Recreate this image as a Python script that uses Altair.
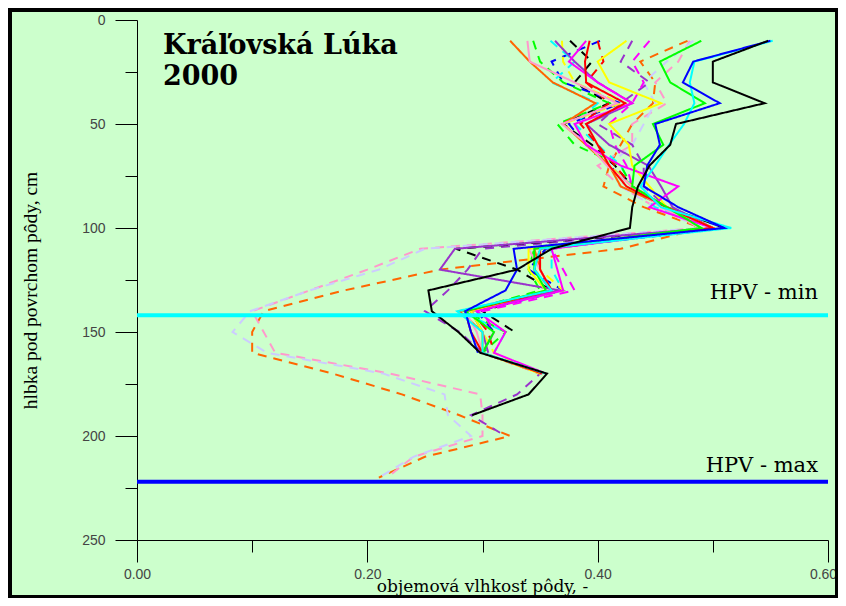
import altair as alt
import pandas as pd

# ---------------- data (soil moisture profiles, depth step 10 cm from 10 cm) ----------------
black_solid = [0.548, 0.50, 0.50, 0.545, 0.468, 0.463, 0.445, 0.435, 0.43, 0.428, 0.36, 0.33, 0.253, 0.256, 0.279, 0.298, 0.356, 0.34, 0.291]
blue_solid = [0.55, 0.483, 0.474, 0.506, 0.45, 0.454, 0.443, 0.44, 0.47, 0.51, 0.327, 0.33, 0.32, 0.285, 0.29, 0.296]
cyan_solid = [0.552, 0.484, 0.48, 0.484, 0.475, 0.462, 0.45, 0.437, 0.455, 0.516, 0.35, 0.345, 0.36, 0.278, 0.30, 0.30, 0.355]
green_solid = [0.49, 0.454, 0.463, 0.493, 0.448, 0.457, 0.432, 0.43, 0.46, 0.49, 0.345, 0.345, 0.355, 0.285, 0.31, 0.30]
red_solid = [0.393, 0.389, 0.39, 0.424, 0.39, 0.40, 0.41, 0.425, 0.46, 0.50, 0.35, 0.35, 0.36, 0.285, 0.29, 0.30, 0.352]
magenta_solid = [0.39, 0.375, 0.40, 0.43, 0.38, 0.39, 0.42, 0.47, 0.445, 0.50, 0.36, 0.365, 0.37, 0.295, 0.32, 0.31, 0.355]
yellow_solid = [0.425, 0.40, 0.41, 0.455, 0.41, 0.427, 0.43, 0.445, 0.46, 0.50, 0.34, 0.34, 0.355, 0.29, 0.30, 0.30, 0.35]
orange_solid = [0.324, 0.341, 0.361, 0.398, 0.37, 0.39, 0.41, 0.42, 0.46, 0.50, 0.345, 0.35, 0.36, 0.28, 0.30, 0.30]
pink_solid = [0.339, 0.341, 0.38, 0.417, 0.369, 0.392, 0.408, 0.43, 0.455, 0.49, 0.34, 0.35, 0.36, 0.285, 0.295, 0.30]
purple_solid = [0.363, 0.38, 0.40, 0.43, 0.39, 0.41, 0.444, 0.455, 0.465, 0.50, 0.276, 0.263, 0.367, 0.29, 0.30, 0.305]

black_dashed = [0.376, 0.395, 0.38, 0.41, 0.37, 0.395, 0.415, 0.43, 0.46, 0.51, 0.277, 0.33, 0.36, 0.30, 0.328]
blue_dashed = [0.402, 0.36, 0.37, 0.42, 0.375, 0.39, 0.41, 0.43, 0.46, 0.51, 0.355, 0.34, 0.37, 0.295, 0.31, 0.30]
cyan_dashed = [0.359, 0.38, 0.36, 0.40, 0.38, 0.40, 0.42, 0.43, 0.45, 0.50, 0.36, 0.36, 0.37, 0.28, 0.32, 0.31]
green_dashed = [0.344, 0.35, 0.37, 0.41, 0.365, 0.38, 0.42, 0.43, 0.46, 0.49, 0.345, 0.34, 0.35, 0.285, 0.32, 0.30]
red_dashed = [0.40, 0.405, 0.39, 0.41, 0.385, 0.40, 0.415, 0.43, 0.46, 0.50, 0.35, 0.345, 0.36, 0.29, 0.305, 0.31]
magenta_dashed = [0.445, 0.43, 0.44, 0.43, 0.41, 0.415, 0.425, 0.43, 0.46, 0.50, 0.36, 0.37, 0.38, 0.30, 0.31, 0.30, 0.35]
yellow_dashed = [0.369, 0.37, 0.38, 0.42, 0.37, 0.39, 0.41, 0.43, 0.46, 0.50, 0.35, 0.35, 0.37, 0.29, 0.30, 0.31, 0.35]
purple_dashed = [0.43, 0.42, 0.445, 0.42, 0.40, 0.43, 0.44, 0.44, 0.46, 0.50, 0.30, 0.287, 0.27, 0.25, 0.28, 0.30, 0.35, 0.33, 0.29, 0.32]
orange_dashed = [0.478, 0.437, 0.45, 0.448, 0.43, 0.42, 0.41, 0.405, 0.44, 0.49, 0.42, 0.263, 0.18, 0.11, 0.10, 0.10, 0.17, 0.23, 0.28, 0.324, 0.25, 0.21]
pink_dashed = [0.48, 0.47, 0.45, 0.46, 0.43, 0.43, 0.40, 0.42, 0.45, 0.49, 0.246, 0.20, 0.15, 0.10, 0.11, 0.12, 0.22, 0.298, 0.30, 0.30, 0.24, 0.217]
lavender_dashed = [0.483, 0.46, 0.44, 0.45, 0.44, 0.43, 0.41, 0.42, 0.45, 0.49, 0.25, 0.21, 0.15, 0.098, 0.083, 0.113, 0.214, 0.267, 0.27, 0.29, 0.24, 0.21]

series_names = ["orange_dashed", "pink_dashed", "lavender_dashed", "purple_dashed",
                "black_dashed", "blue_dashed", "cyan_dashed", "green_dashed", "red_dashed",
                "magenta_dashed", "yellow_dashed",
                "orange_solid", "pink_solid", "purple_solid", "yellow_solid", "magenta_solid",
                "red_solid", "green_solid", "cyan_solid", "blue_solid", "black_solid"]
series_values = [orange_dashed, pink_dashed, lavender_dashed, purple_dashed,
                 black_dashed, blue_dashed, cyan_dashed, green_dashed, red_dashed,
                 magenta_dashed, yellow_dashed,
                 orange_solid, pink_solid, purple_solid, yellow_solid, magenta_solid,
                 red_solid, green_solid, cyan_solid, blue_solid, black_solid]
color_of = {"black": "#000000", "blue": "#0000FF", "cyan": "#00FFFF", "green": "#00FF00",
            "red": "#FF0000", "magenta": "#FF00FF", "yellow": "#FFFF00", "orange": "#FF6600",
            "pink": "#FF99CC", "purple": "#9933CC", "lavender": "#CCCCFF"}

hpv_depths = [142, 222]
hpv_labels = ["HPV - min", "HPV - max"]
title_line1 = "Kráľovská Lúka"
title_line2 = "2000"

rows = []
for name, vals in zip(series_names, series_values):
    for i, v in enumerate(vals):
        rows.append({"series": name, "depth": 10 * (i + 1), "value": v})
df = pd.DataFrame(rows)

colors = [color_of[n.split("_")[0]] for n in series_names]
dashes = [[9, 7] if n.endswith("dashed") else [1, 0] for n in series_names]

SERIF = "Liberation Serif"
WIDE_SERIF = "DejaVu Serif"
SANS = "Liberation Sans"

x_axis = alt.Axis(
    values=[0, 0.1, 0.2, 0.3, 0.4, 0.5, 0.6], format=".2f",
    labelExpr="round(datum.value*10) % 2 == 0 ? datum.label : ''",
    tickSize={"condition": {"test": "round(datum.value*10) % 2 == 0", "value": 22}, "value": 12},
    labelOffset={"condition": {"test": "datum.value > 0.55", "value": -5}, "value": 0},
    labelPadding=5, labelFlush=False, labelFont=SANS, labelFontSize=14, labelColor="#444444",
    title="objemová vlhkosť pôdy,  -", titleFont=WIDE_SERIF, titleFontSize=17,
    titleFontWeight="normal", titleColor="#000000", titleX=345, titleY=51,
    titleAlign="center", titleBaseline="alphabetic",
    grid=False, domainColor="#000000", tickColor="#000000",
)
y_axis = alt.Axis(
    values=list(range(0, 251, 25)),
    labelExpr="datum.value % 50 == 0 ? datum.label : ''",
    tickSize={"condition": {"test": "datum.value % 50 == 0", "value": 22}, "value": 12},
    labelPadding=10, labelFlush=False, labelFont=SANS, labelFontSize=14, labelColor="#444444",
    title="hlbka pod povrchom pôdy,  cm", titleFont=SERIF, titleFontSize=19.5,
    titleFontWeight="normal", titleColor="#000000", titleX=-107, titleY=270,
    titleAlign="center", titleBaseline="middle", titleAngle=-90,
    grid=False, domainColor="#000000", tickColor="#000000",
)

x_scale = alt.Scale(domain=[0, 0.6], nice=False)
y_scale = alt.Scale(domain=[0, 250], reverse=True, nice=False)

lines = alt.Chart(df).mark_line(strokeWidth=2).encode(
    x=alt.X("value:Q", scale=x_scale, axis=x_axis),
    y=alt.Y("depth:Q", scale=y_scale, axis=y_axis),
    color=alt.Color("series:N", scale=alt.Scale(domain=series_names, range=colors), legend=None),
    strokeDash=alt.StrokeDash("series:N", scale=alt.Scale(domain=series_names, range=dashes), legend=None),
    detail="series:N",
    order="depth:Q",
)

hpv_df = pd.DataFrame({"depth": hpv_depths, "label": hpv_labels})
rule_min = alt.Chart(hpv_df.iloc[[0]]).mark_rule(color="#00FFFF", strokeWidth=4).encode(y=alt.Y("depth:Q"))
rule_max = alt.Chart(hpv_df.iloc[[1]]).mark_rule(color="#0000FF", strokeWidth=4).encode(y=alt.Y("depth:Q"))
hpv_text_min = alt.Chart(hpv_df.iloc[[0]]).mark_text(
    align="right", baseline="middle", dy=-22, font=WIDE_SERIF, fontSize=21, color="#000000"
).encode(y=alt.Y("depth:Q"), x=alt.value(681), text="label:N")
hpv_text_max = alt.Chart(hpv_df.iloc[[1]]).mark_text(
    align="right", baseline="middle", dy=-16, font=WIDE_SERIF, fontSize=21, color="#000000"
).encode(y=alt.Y("depth:Q"), x=alt.value(681), text="label:N")

title1 = alt.Chart(pd.DataFrame({"t": [title_line1]})).mark_text(
    align="left", baseline="alphabetic", font=WIDE_SERIF, fontSize=27, fontWeight="bold", color="#000000"
).encode(x=alt.value(26), y=alt.value(34), text="t:N")
title2 = alt.Chart(pd.DataFrame({"t": [title_line2]})).mark_text(
    align="left", baseline="alphabetic", font=WIDE_SERIF, fontSize=27, fontWeight="bold", color="#000000"
).encode(x=alt.value(26), y=alt.value(65), text="t:N")

frame = alt.Chart(pd.DataFrame({"a": [0]})).mark_rect(
    fillOpacity=0, stroke="#000000", strokeWidth=4
).encode(x=alt.value(-127), x2=alt.value(700), y=alt.value(-10), y2=alt.value(577))

chart = alt.layer(lines, rule_min, rule_max, hpv_text_min, hpv_text_max, title1, title2, frame).properties(
    width=691, height=520,
    autosize=alt.AutoSizeParams(type="none"),
    padding={"left": 129, "top": 12, "right": 10, "bottom": 58},
    background="#CCFFCC",
).configure_view(stroke=None)

chart.save("out.html", embed_options={"renderer": "svg", "actions": False})
